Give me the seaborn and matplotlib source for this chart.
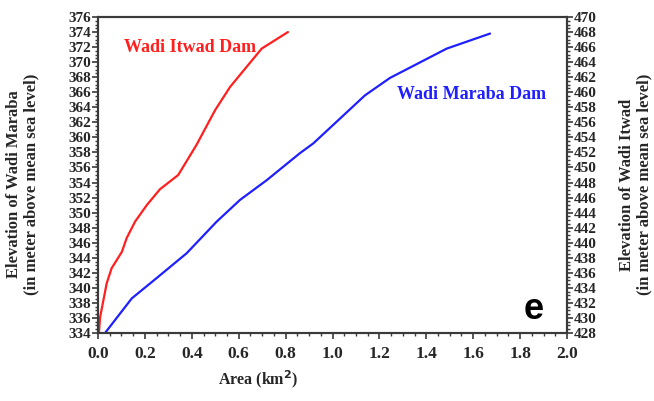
import numpy as np
import pandas as pd
import matplotlib
matplotlib.use('Agg')
import matplotlib.pyplot as plt
from matplotlib.ticker import MultipleLocator, FormatStrFormatter
import seaborn as sns

# ==================== Data ====================
# Wadi Itwad Dam (right axis, elevation 428-470)
itwad_area = [0.004, 0.009, 0.037, 0.058, 0.102, 0.122, 0.158, 0.208, 0.264,
              0.342, 0.420, 0.499, 0.563, 0.698, 0.810]
itwad_elev = [428.0, 430.1, 434.6, 436.6, 438.8, 440.6, 442.8, 445.0, 447.1,
              449.0, 453.0, 457.6, 460.7, 465.8, 468.0]

# Wadi Maraba Dam (left axis, elevation 334-376)
maraba_area = [0.030, 0.144, 0.250, 0.378, 0.506, 0.606, 0.719, 0.861, 0.918,
               1.032, 1.139, 1.245, 1.487, 1.672]
maraba_elev = [334.0, 338.6, 341.3, 344.6, 348.8, 351.7, 354.3, 357.9, 359.2,
               362.5, 365.6, 367.9, 371.8, 373.8]

df_itwad = pd.DataFrame({'area': itwad_area, 'elev': itwad_elev})
df_maraba = pd.DataFrame({'area': maraba_area, 'elev': maraba_elev})

# ==================== Style ====================
sns.set_style('ticks')
plt.rcParams['font.family'] = ['Liberation Serif', 'DejaVu Serif']
plt.rcParams['font.weight'] = 'bold'
plt.rcParams['axes.labelweight'] = 'bold'

red = '#ff1f1f'
blue = '#1f1fff'
spine_col = '#3a3a3a'

fig = plt.figure(figsize=(6.54, 4.01), dpi=100)
ax = fig.add_axes([98 / 654, 68 / 401, 469 / 654, 316 / 401])
ax2 = ax.twinx()

sns.lineplot(data=df_maraba, x='area', y='elev', ax=ax, color=blue,
             linewidth=1.6, estimator=None, sort=False)
sns.lineplot(data=df_itwad, x='area', y='elev', ax=ax2, color=red,
             linewidth=1.6, estimator=None, sort=False)

ax.set_xlim(0, 2.0)
ax.set_ylim(334, 376)
ax2.set_ylim(428, 470)

ax.xaxis.set_major_locator(MultipleLocator(0.2))
ax.xaxis.set_minor_locator(MultipleLocator(0.05))
ax.xaxis.set_major_formatter(FormatStrFormatter('%.1f'))
for a in (ax, ax2):
    a.yaxis.set_major_locator(MultipleLocator(2))
    a.yaxis.set_minor_locator(MultipleLocator(0.5))

for a in (ax, ax2):
    a.tick_params(axis='both', which='major', length=4, width=1.2,
                  color=spine_col, pad=1)
    a.tick_params(axis='y', which='major', labelsize=11)
    a.tick_params(axis='both', which='minor', length=2.5, width=1,
                  color=spine_col)
    for s in a.spines.values():
        s.set_color(spine_col)
        s.set_linewidth(1.5)
    a.spines['top'].set_visible(True)
    a.spines['right'].set_visible(True)
ax.tick_params(axis='x', which='major', labelsize=12.5, pad=5)

ax.set_xlabel('Area (km$^\\mathbf{2}$)', fontsize=11.5)
ax.xaxis.set_label_coords(0.341, -0.11)
ax.set_ylabel('Elevation of Wadi Maraba\n(in meter above mean sea level)',
              fontsize=12, linespacing=1.15)
ax.yaxis.set_label_coords(-0.125, 0.47)
ax2.set_ylabel('Elevation of Wadi Itwad\n(in meter above mean sea level)',
               fontsize=12, linespacing=1.15)
ax2.yaxis.set_label_coords(1.11, 0.47)

ax.text(0.055, 0.905, 'Wadi Itwad Dam', transform=ax.transAxes, color=red,
        fontsize=13, fontweight='bold', va='center', ha='left')
ax.text(0.637, 0.755, 'Wadi Maraba Dam', transform=ax.transAxes, color=blue,
        fontsize=13, fontweight='bold', va='center', ha='left')
ax.text(0.93, 0.075, 'e', transform=ax.transAxes, color='black',
        fontsize=26, fontweight='bold', family='Liberation Sans',
        va='center', ha='center')

fig.savefig('out.png', dpi=100)
plt.close()
